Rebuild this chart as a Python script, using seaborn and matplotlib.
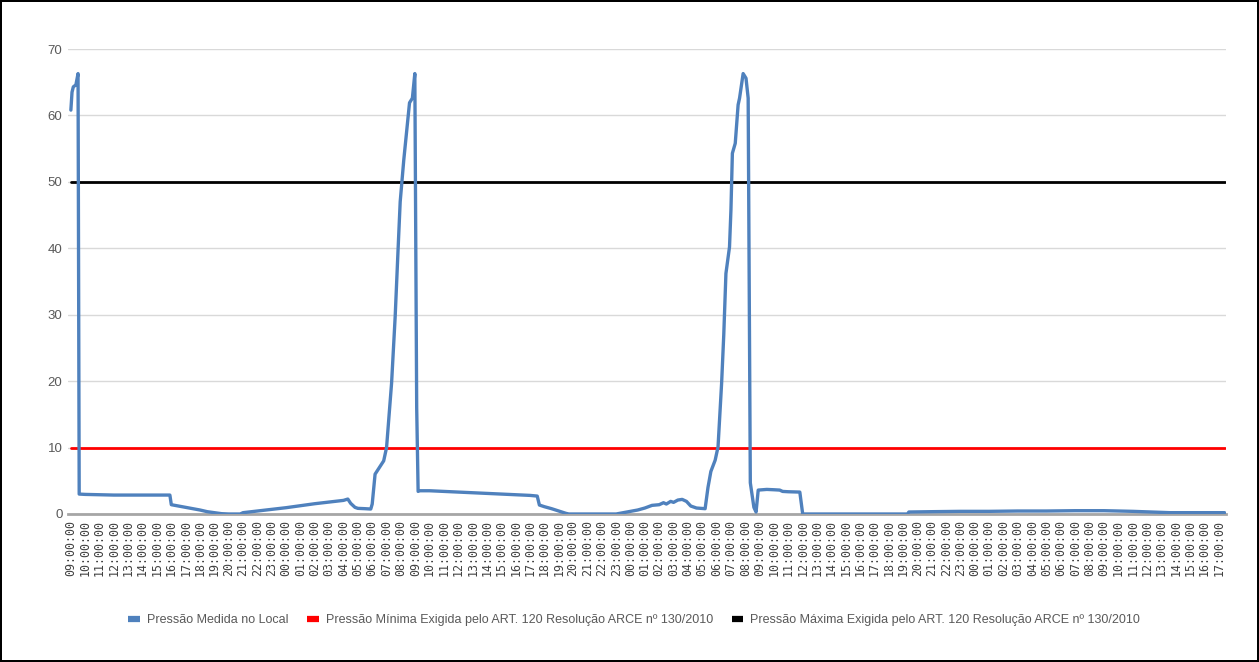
import matplotlib
matplotlib.use("Agg")
import matplotlib.pyplot as plt
import seaborn as sns
import pandas as pd
import numpy as np

# ---------------- data ----------------
# hours elapsed since 09:00:00 of the first day
hours = [0.00, 0.08, 0.17, 0.35, 0.50, 0.58, 1.0, 2.0, 3.0, 4.0, 5.0, 6.0, 6.9,
         7.0, 7.5, 8.0, 8.5, 9.0, 9.5, 10.0, 10.5, 11.0, 11.8, 12.0, 13.0, 14.0,
         15.0, 16.0, 17.0, 18.0, 19.0, 19.3, 19.5, 19.8, 20.0, 20.5, 20.9, 21.0,
         21.2, 21.5, 21.8, 22.0, 22.35, 22.6, 22.8, 22.95, 23.2, 23.6, 23.8,
         23.97, 24.1, 24.2,
         24.3, 25.0, 26.0, 27.0, 28.0, 29.0, 30.0, 31.0, 32.0, 32.5, 32.65, 33.0,
         33.5, 34.0, 34.5, 34.7, 38.0, 38.5, 39.0, 39.5, 40.0, 40.5, 41.0, 41.3,
         41.5, 41.8, 42.0, 42.3, 42.6, 42.9, 43.2, 43.6, 44.2, 44.4, 44.6, 44.9,
         45.1, 45.35, 45.5, 45.65, 45.9, 46.0, 46.1, 46.3, 46.5, 46.6, 46.85,
         47.05, 47.2, 47.35, 47.6, 47.75, 47.9, 48.5, 49.0, 49.4, 49.6, 50.0,
         50.8, 51.0, 58.3, 58.4, 60.0, 62.0, 64.0, 66.0, 68.0, 70.0, 72.0, 74.0,
         76.6, 78.0, 80.4]
pressure = [60.8, 63.5, 64.3, 64.6, 66.3, 3.0, 2.95, 2.9, 2.85, 2.85, 2.85, 2.85, 2.85,
            1.4, 1.2, 1.0, 0.8, 0.6, 0.35, 0.2, 0.05, 0.0, 0.0, 0.2, 0.45, 0.7,
            0.95, 1.25, 1.55, 1.8, 2.05, 2.25, 1.6, 1.0, 0.85, 0.8, 0.75, 1.5,
            6.0, 7.0, 8.0, 10.0, 19.7, 29.7, 39.7, 47.0, 53.3, 61.9, 62.6,
            66.3, 16.0, 3.4,
            3.5, 3.5, 3.4, 3.3, 3.2, 3.1, 3.0, 2.9, 2.8, 2.7, 1.35, 1.1,
            0.8, 0.45, 0.1, 0.0, 0.0, 0.2, 0.4, 0.6, 0.9, 1.3, 1.4, 1.7,
            1.5, 1.9, 1.75, 2.1, 2.2, 1.9, 1.2, 0.9, 0.8, 4.0, 6.4, 8.1,
            10.1, 19.7, 27.0, 36.2, 40.2, 45.8, 54.3, 55.8, 61.6, 62.6, 66.3,
            65.6, 62.6, 4.7, 1.0, 0.3, 3.6, 3.7, 3.65, 3.6, 3.4, 3.35,
            3.3, 0.0, 0.0, 0.3, 0.35, 0.4, 0.4, 0.45, 0.45, 0.5, 0.5, 0.4,
            0.2, 0.2, 0.2]
min_pressure = 10
max_pressure = 50
start_hour = 9
n_ticks = 81
tick_labels = [f"{(start_hour + i) % 24:02d}:00:00" for i in range(n_ticks)]

series_names = ["Pressão Medida no Local",
                "Pressão Mínima Exigida pelo ART. 120 Resolução ARCE nº 130/2010",
                "Pressão Máxima Exigida pelo ART. 120 Resolução ARCE nº 130/2010"]
colors = ["#4f81bd", "#ff0000", "#000000"]

t_end = hours[-1]
df = pd.concat([
    pd.DataFrame({"t": hours, "v": pressure, "s": series_names[0]}),
    pd.DataFrame({"t": [hours[0], t_end], "v": [min_pressure] * 2, "s": series_names[1]}),
    pd.DataFrame({"t": [hours[0], t_end], "v": [max_pressure] * 2, "s": series_names[2]}),
], ignore_index=True)

# ---------------- plot ----------------
sns.set_theme(style="white")
plt.rcParams["font.family"] = ["Liberation Sans", "DejaVu Sans"]

fig = plt.figure(figsize=(12.59, 6.62), dpi=100)
fig.patch.set_edgecolor("black")
fig.patch.set_linewidth(1.5)
ax = fig.add_axes([68 / 1259, 1 - 514 / 662, (1226 - 68) / 1259, (514 - 49) / 662])

sns.lineplot(data=df, x="t", y="v", hue="s", hue_order=series_names,
             palette=dict(zip(series_names, colors)), estimator=None, sort=False,
             linewidth=2.2, ax=ax, legend=True)
for ln, lw in zip(ax.lines[:3], [2.4, 2.0, 2.0]):
    ln.set_linewidth(lw)
ax.lines[1].set_zorder(4)
ax.lines[2].set_zorder(4)
ax.lines[0].set_zorder(5)

ax.set_xlim(-0.2, 80.5)
ax.set_ylim(0, 70)
ax.set_yticks(range(0, 71, 10))
ax.set_yticklabels([str(v) for v in range(0, 71, 10)], fontsize=9.5, color="#595959")
ax.set_xticks(range(n_ticks))
ax.set_xticklabels(tick_labels, rotation=90, fontsize=8.4, family="DejaVu Sans Mono",
                   color="#404040")
ax.tick_params(axis="both", length=0, pad=4)
ax.set_xlabel("")
ax.set_ylabel("")
ax.yaxis.grid(True, color="#d9d9d9", linewidth=1.0)
ax.xaxis.grid(False)
for sp in ["top", "right", "left"]:
    ax.spines[sp].set_visible(False)
ax.spines["bottom"].set_color("#a6a6a6")
ax.spines["bottom"].set_linewidth(2.0)

sns.move_legend(ax, "center", bbox_to_anchor=(634 / 1259, 1 - 620 / 662),
                bbox_transform=fig.transFigure, ncol=3, frameon=False, title=None,
                fontsize=9.0, handlelength=0.95, columnspacing=1.5, handletextpad=0.55)
leg = ax.get_legend()
for h in leg.legend_handles:
    h.set_linewidth(4.5)
    h.set_solid_capstyle("butt")
for txt in leg.get_texts():
    txt.set_color("#595959")

fig.savefig("out.png", dpi=100, edgecolor=fig.get_edgecolor())
